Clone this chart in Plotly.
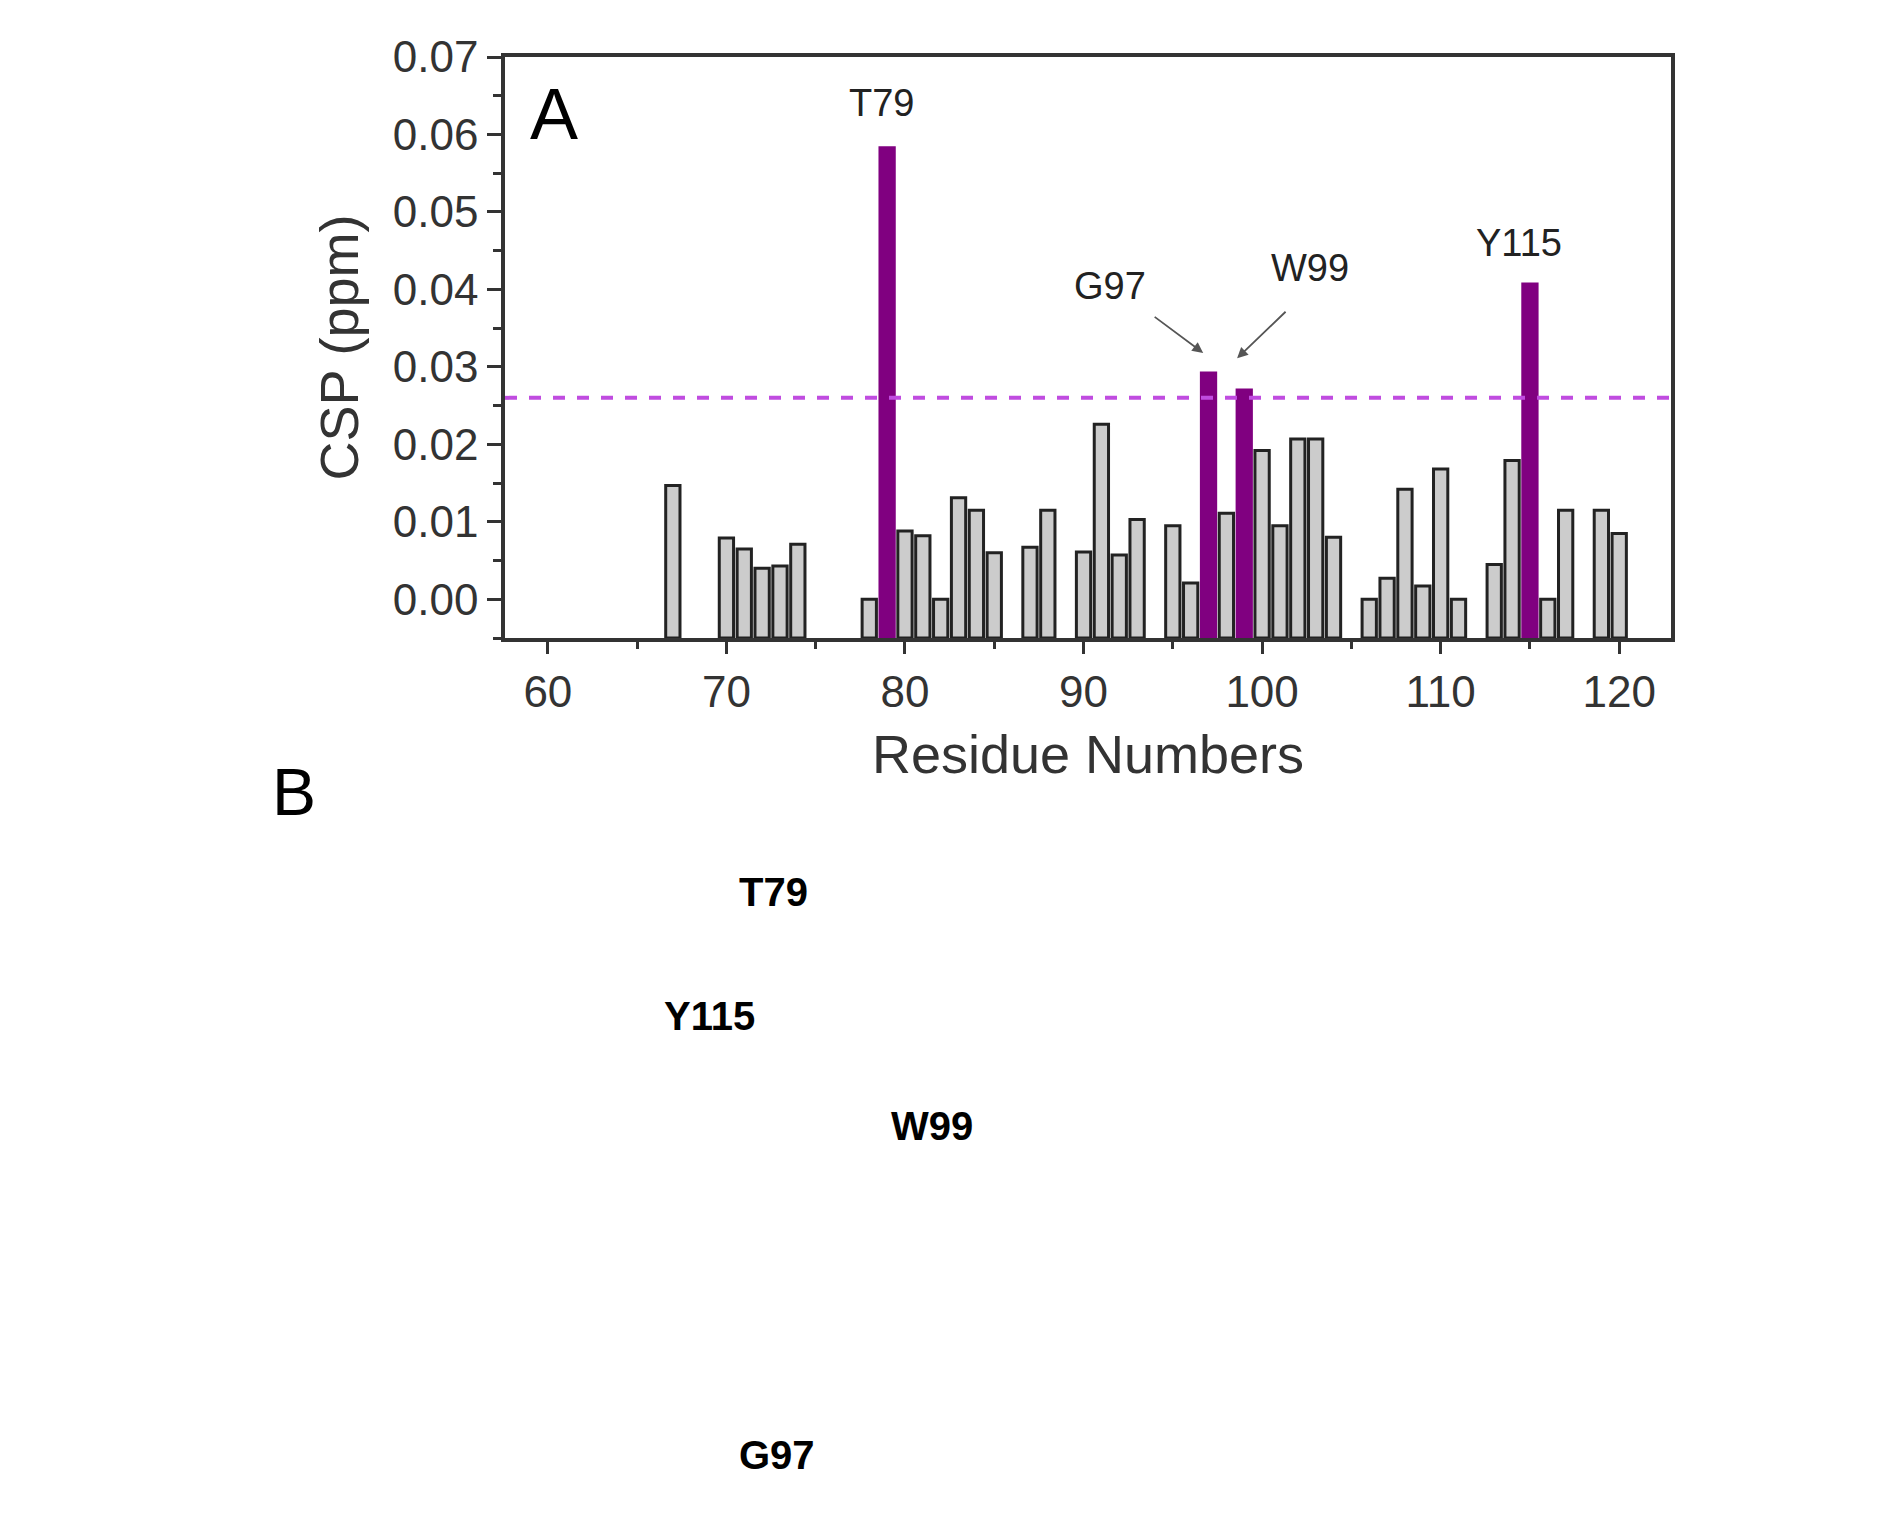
import plotly.graph_objects as go

# CSP per residue
residues = [67, 70, 71, 72, 73, 74, 78, 79, 80, 81, 82, 83, 84, 85, 87, 88, 90, 91,
            92, 93, 95, 96, 97, 98, 99, 100, 101, 102, 103, 104, 106, 107, 108, 109,
            110, 111, 113, 114, 115, 116, 117, 119, 120]
csp = [0.0147, 0.0079, 0.0065, 0.0040, 0.0043, 0.0071, 0.0000, 0.0583, 0.0088, 0.0082,
       0.0000, 0.0131, 0.0115, 0.0060, 0.0067, 0.0115, 0.0061, 0.0226,
       0.0057, 0.0103, 0.0095, 0.0021, 0.0292, 0.0111, 0.0270, 0.0192, 0.0095, 0.0207,
       0.0207, 0.0080, 0.0000, 0.0027, 0.0142, 0.0017, 0.0168, 0.0000, 0.0045, 0.0179,
       0.0407, 0.0000, 0.0115, 0.0115, 0.0085]
highlight = [79, 97, 99, 115]
threshold = 0.026
ymin = -0.005

GREY = '#cccccc'
PURPLE = '#800080'
FONT = 'Liberation Sans, Arial, sans-serif'

colors = [PURPLE if r in highlight else GREY for r in residues]
lines = [PURPLE if r in highlight else '#222222' for r in residues]

fig = go.Figure()
fig.add_trace(go.Bar(
    x=residues, y=[v - ymin for v in csp], base=ymin, width=0.8,
    marker=dict(color=colors, line=dict(color=lines, width=3)),
    showlegend=False))

fig.add_shape(type='line', xref='paper', x0=0, x1=1, y0=threshold, y1=threshold,
              line=dict(color='#c04ce0', width=4, dash='dash'))

ann = []
for txt, x, y in [('T79', 78.7, 0.064), ('G97', 91.5, 0.0404),
                  ('W99', 102.7, 0.0428), ('Y115', 114.4, 0.046)]:
    ann.append(dict(x=x, y=y, text=txt, showarrow=False,
                    font=dict(size=38, color='#222222', family=FONT)))
# arrows for G97 / W99
for tx, ty, hx, hy in [(93.9, 0.0366, 96.7, 0.0318), (101.4, 0.0373, 98.6, 0.0311)]:
    ann.append(dict(x=hx, y=hy, ax=tx, ay=ty, axref='x', ayref='y', text='',
                    showarrow=True, arrowhead=2, arrowsize=1.2, arrowwidth=1.8,
                    arrowcolor='#555555'))
ann.append(dict(x=0.02, y=0.975, xref='paper', yref='paper', text='A', showarrow=False,
                xanchor='left', yanchor='top', font=dict(size=72, color='black', family=FONT)))
# panel B labels (structure images not reproduced)
ann.append(dict(x=-0.2015, y=-0.332, xref='paper', yref='paper', text='B', showarrow=False,
                font=dict(size=66, color='black', family=FONT)))
for txt, x, y in [('T79', 0.199, -0.478), ('Y115', 0.135, -0.692),
                  ('W99', 0.366, -0.881), ('G97', 0.199, -1.447)]:
    ann.append(dict(x=x, y=y, xref='paper', yref='paper', text='<b>%s</b>' % txt,
                    showarrow=False, font=dict(size=40, color='black', family=FONT)))

axis_common = dict(showline=True, linecolor='#333333', linewidth=3.5, mirror=True,
                   ticks='outside', tickwidth=3, tickcolor='#333333', showgrid=False,
                   zeroline=False, tickfont=dict(size=44, color='#333333', family=FONT))

fig.update_layout(
    width=1901, height=1533,
    margin=dict(l=497, r=238, t=49, b=903),
    plot_bgcolor='white', paper_bgcolor='white',
    bargap=0.2, annotations=ann,
    xaxis=dict(range=[57.6, 122.9], tickvals=[60, 70, 80, 90, 100, 110, 120], ticklen=12,
               minor=dict(dtick=5, tick0=60, ticks='outside', ticklen=7, tickwidth=3,
                          tickcolor='#333333'),
               title=dict(text='Residue Numbers', standoff=22,
                          font=dict(size=54, color='#333333', family=FONT)),
               **axis_common),
    yaxis=dict(range=[ymin, 0.07], tickvals=[0, 0.01, 0.02, 0.03, 0.04, 0.05, 0.06, 0.07],
               tickformat='.2f', ticklen=14,
               minor=dict(dtick=0.005, tick0=0, ticks='outside', ticklen=8, tickwidth=3,
                          tickcolor='#333333'),
               title=dict(text='CSP (ppm)', standoff=18,
                          font=dict(size=54, color='#333333', family=FONT)),
               **axis_common),
)

fig.write_html("out.html")
